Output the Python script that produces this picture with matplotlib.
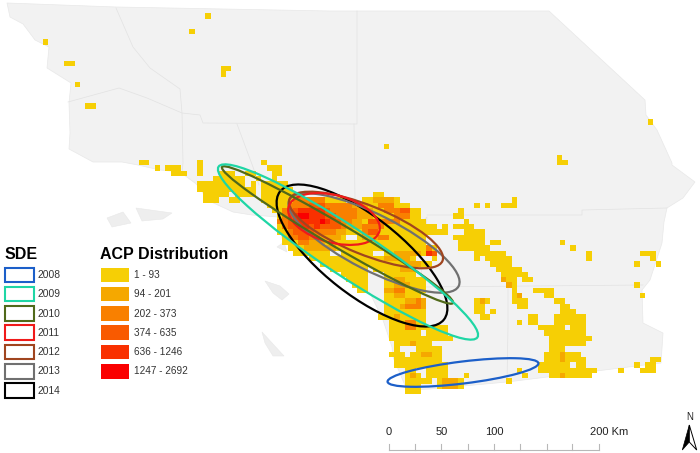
import matplotlib
matplotlib.use('Agg')
import matplotlib.pyplot as plt
from matplotlib.patches import Polygon, Rectangle, Ellipse

plt.rcParams['font.family'] = ['Liberation Sans', 'DejaVu Sans']

# outline of the region and counties, in picture pixels
land = [(7,3),(116,7),(330,11),(549,11),(645,100),(646,115),(657,130),(672,163),(672,165),(695,182),(683,198),
        (667,208),(664,222),(662,243),(650,280),(642,290),(643,323),(663,333),(661,363),(507,382),(430,389),(407,390),
        (393,357),(392,347),(383,320),(370,293),(350,273),(320,257),(283,243),(278,217),(252,215),(233,212),(207,200),
        (200,188),(195,183),(180,172),(160,170),(138,165),(122,162),(93,162),(69,149),(70,133),(69,103),(71,83),(47,68),
        (49,47),(35,40),(23,24),(10,17)]
islands = [[(107,218),(123,212),(131,223),(112,227)],
           [(136,208),(172,213),(163,219),(142,221)],
           [(265,281),(280,286),(289,294),(282,300),(273,293)],
           [(262,332),(284,356),(273,356),(265,343)],
           [(277,247),(284,242),(287,252)]]
county_lines = [[(116,8),(133,47),(150,68),(180,89),(182,113),(183,163),(182,172)],
                [(68,102),(119,88),(147,98),(182,113),(200,115),(203,123),(354,124),(357,124),(357,11)],
                [(237,124),(253,167),(259,185)],
                [(354,124),(355,200),(377,263)],
                [(377,263),(427,217),(420,287)],
                [(427,215),(582,215),(582,210),(667,208)],
                [(420,287),(643,285)],
                [(508,287),(508,327),(507,382)]]

# ACP classes
class_labels = ['1 - 93','94 - 201','202 - 373','374 - 635','636 - 1246','1247 - 2692']
class_colors = ['#f6cf05','#f5a800','#f98000','#f95a00','#f93000','#fa0000']

# cells as (row, first col, last col)
acp_1 = [(2.5,38.5,38.5),(5.4,35.5,35.5),(7.4,8,8),(11.4,12,13),(12.4,41.4,42.4),(13.4,41.4,41.4),(15.4,14,14),(19.4,16,17),
         (27,72,72),(29,104.5,104.5),(30,104.5,105.5),(22.4,121.5,121.5),
         (30,26,27),(30,37,37),(30,49,49),
         (31,29,29),(31,31,33),(31,37,37),(31,50,52),
         (32,32,33),(32,34,34),(32,37,37),(32,41,43),(32,46,47),(32,51,52),
         (33,40,45),(33,48,48),(33,51,51),
         (34,37,37),(34,38,45),(34,47,47),(34,49,53),
         (35,37,47),(35,49,54),
         (36,38,42),(36,44,47),(36,49,56),(36,70,71),
         (37,38,40),(37,43,44),(37,49,64),(37,68,74),(37,96,96),
         (38,50,76),(38,89,89),(38,91,91),(38,94,96),
         (39,51,78),(39,86,86),
         (40,52,78),(40,85,86),
         (41,52,79),(41,87,87),
         (42,52,81),(42,83,83),(42,85,88),
         (43,52,83),(43,87,90),
         (44,53,79),(44,85,90),
         (45,53,79),(45,86,90),(45,92,93),(45,105,105),
         (46,54,81),(46,86,91),(46,107,107),
         (47,55,81),(47,89,94),(47,110,110),(47,120,122),
         (48,58,81),(48,89,89),(48,91,95),(48,110,110),(48,122,122),
         (49,60,80),(49,92,95),(49,119,119),(49,123,123),
         (50,62,68),(50,70,77),(50,93,97),
         (51,64,68),(51,72,77),(51,94,98),
         (52,65,68),(52,72,79),(52,94,96),(52,98,99),
         (53,66,68),(53,72,79),(53,95,96),(53,119,119),
         (54,67,68),(54,72,79),(54,96,96),(54,100,103),
         (55,72,78),(55,96,97),(55,102,103),(55,120,120),
         (56,72,79),(56,89,91),(56,96,98),(56,104,105),
         (57,72,79),(57,89,90),(57,97,98),(57,105,106),
         (58,72,79),(58,89,90),(58,92,92),(58,105,107),
         (59,71,79),(59,90,91),(59,99,100),(59,104,109),
         (60,73,79),(60,97,97),(60,99,100),(60,104,109),
         (61,73,83),(61,101,105),(61,107,109),
         (62,73,83),(62,102,109),
         (63,73,84),(63,103,110),
         (64,74,80),(64,103,109),
         (65,74,74),(65,78,82),(65,103,105),
         (66,73,76),(66,77,82),(66,102,108),
         (67,74,82),(67,102,109),(67,122,123),
         (68,74,79),(68,80,83),(68,101,106),(68,108,109),(68,119,119),(68,121,122),
         (69,76,77),(69,80,83),(69,97,97),(69,101,111),(69,116,116),(69,120,120),(69,121,122),
         (70,76,78),(70,80,83),(70,87,87),(70,98,98),(70,103,110),
         (71,76,80),(71,82,86),(71,95,95),
         (72,76,78),(72,82,86),
         (73,76,78)]
acp_2 = [(37,55,60),(37,70,73),(38,62,68),(38,71,73),(39,67,69),(39,74,74),(40,65,69),(40,76,76),(41,66,67),(41,71,73),
         (42,64,67),(43,63,64),(44,60,63),(44,68,70),(45,56,60),(46,57,62),(47,74,78),(48,72,76),
         (49,76,78),(50,75,77),(52,74,75),(53,74,76),(54,72,75),(55,74,75),(56,76,79),(57,75,79),(59,74,74),(60,76,77),
         (61,77,77),(64,77,77),(66,79,80),(70,77,77),(71,83,85),(72,83,85),
         (52,94,94),(53,95,95),(55,97,97),(56,90,90),(66,105,105),(67,105,105),(70,105,105)]
acp_3 = [(37,55,60),(38,54,57),(38,61,65),(38,71,73),(39,53,54),(39,62,66),(39,72,74),(40,53,53),(40,63,66),(40,74,76),
         (41,52,53),(41,64,65),(41,71,74),(42,53,53),(42,64,64),(42,68,71),(43,54,54),(43,59,62),(43,68,70),(44,54,55),
         (44,58,59),(44,71,72),(45,56,57),(46,80,80),
         (54,74,75),(56,78,78),(57,76,78),(60,76,77),(61,76,77)]
acp_4 = [(38,58,60),(39,55,55),(39,61,61),(39,75,76),(40,54,54),(40,61,62),(41,54,54),(41,62,63),(41,69,70),(42,54,55),
         (42,58,58),(42,60,63),(43,55,58),(43,69,70),(44,56,57),(47,81,81)]
acp_5 = [(39,56,60),(40,55,55),(40,58,60),(41,55,59),(41,61,61),(42,56,57),(42,59,59),(47,80,80)]
acp_6 = [(40,56,57),(41,60,60)]
holes = [(33,46,47),(34,46,46),(36,43,43),(37,41,42),(37,45,48),(44,65,66),(47,62,63),(47,70,71),(48,78,80),(50,69,69),
         (51,69,71),(52,69,71),(53,69,71),(62,79,79),(66,76,76)]

# standard deviational ellipses: centre, semi axes, angle
sde_years = ['2008','2009','2010','2011','2012','2013','2014']
sde_colors = ['#1c5fc9','#1fd6a5','#50691a','#f01a1a','#a0451f','#707070','#000000']
sde_cx = [463,348,337.5,334,366,374,362]
sde_cy = [372.5,252,235,219,230,243,255.5]
sde_a = [76,155,134,47,82.5,95,104]
sde_b = [11,24,11.5,23.7,24.4,27.8,39]
sde_ang = [-7,33.4,30.5,15,22,27,38]

scale_ticks = [389,415.3,441.3,467.7,494.3,520.3,546.7,572.3,599]
land_color = '#f2f2f2'
CELL = 5.33

fig = plt.figure(figsize=(7,4.53), dpi=100)
ax = fig.add_axes([0,0,1,1])
ax.set_xlim(0,700)
ax.set_ylim(453,0)
ax.axis('off')

ax.add_patch(Polygon(land, closed=True, fc=land_color, ec='#e8e8e8', lw=0.5, zorder=1))
for isl in islands:
    ax.add_patch(Polygon(isl, closed=True, fc='#eeeeee', ec='#e8e8e8', lw=0.4, zorder=1))
for line in county_lines:
    ax.plot([p[0] for p in line], [p[1] for p in line], color='#e2e2e2', lw=0.5, zorder=1.5)

for z, (cells, col) in enumerate(zip([acp_1,acp_2,acp_3,acp_4,acp_5,acp_6,holes], class_colors+[land_color])):
    for r, c0, c1 in cells:
        ax.add_patch(Rectangle((c0*CELL, r*CELL), (c1-c0+1)*CELL, CELL, fc=col, ec='none', zorder=2+z*0.1))

for i in [6,5,4,3,2,1,0]:
    ax.add_patch(Ellipse((sde_cx[i],sde_cy[i]), 2*sde_a[i], 2*sde_b[i], angle=sde_ang[i], fc='none',
                         ec=sde_colors[i], lw=1.6, zorder=4))

# legends
ax.text(4.5, 254.5, 'SDE', fontsize=11.5, fontweight='bold', va='center', color='black')
ax.text(100.5, 254.5, 'ACP Distribution', fontsize=11.5, fontweight='bold', va='center', color='black')
for i, yr in enumerate(sde_years):
    y = 267.5 + i*19.3
    ax.add_patch(Rectangle((4.5,y), 29, 14.5, fc='white', ec=sde_colors[i], lw=1.5, zorder=5))
    ax.text(38, y+7.5, yr, fontsize=7.4, va='center', color='#333333')
for i, lab in enumerate(class_labels):
    y = 267.5 + i*19.3
    ax.add_patch(Rectangle((100.5,y), 28.5, 14.5, fc=class_colors[i], ec='none', zorder=5))
    ax.text(134, y+7.5, lab, fontsize=7.2, va='center', color='#333333')

# scale bar
ax.plot([scale_ticks[0],scale_ticks[-1]], [450.3,450.3], color='#b8b8b8', lw=0.8)
for x in scale_ticks:
    ax.plot([x,x], [443.5,450.3], color='#b8b8b8', lw=0.8)
ax.text(389, 431.7, '0', fontsize=8, ha='center', va='center', color='#222222')
ax.text(441.3, 431.7, '50', fontsize=8, ha='center', va='center', color='#222222')
ax.text(494.3, 431.7, '100', fontsize=8, ha='center', va='center', color='#222222')
ax.text(589.5, 431.7, '200 Km', fontsize=8, ha='left', va='center', color='#222222')

# north arrow
ax.text(689.3, 417.5, 'N', fontsize=7, ha='center', va='center', color='#222222')
ax.add_patch(Polygon([(689.3,425),(682.3,450),(689.3,442)], closed=True, fc='black', ec='black', lw=0.5))
ax.add_patch(Polygon([(689.3,425),(696.7,450),(689.3,442)], closed=True, fc='white', ec='black', lw=0.7))

fig.savefig('out.png', dpi=100)
